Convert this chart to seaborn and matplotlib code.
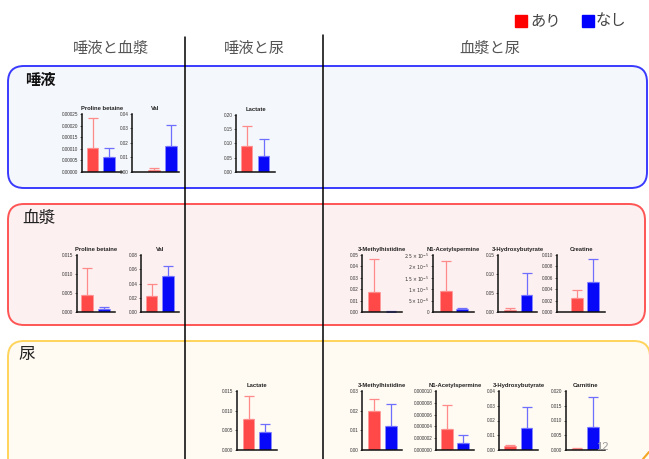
import numpy as np
import pandas as pd
import matplotlib
matplotlib.use("Agg")
import matplotlib.pyplot as plt
from matplotlib.patches import FancyBboxPatch, Rectangle
import seaborn as sns

# ---- data -------------------------------------------------------------
groups = ["あり", "なし"]

metabolites = [
    "Proline betaine", "Val", "Lactate",                       # 唾液
    "Proline betaine", "Val", "3-Methylhistidine",
    "N1-Acetylspermine", "3-Hydroxybutyrate", "Creatine",      # 血漿
    "Lactate", "3-Methylhistidine", "N1-Acetylspermine",
    "3-Hydroxybutyrate", "Carnitine",                          # 尿
]

mean_ari = [0.000103, 0.0016, 0.0895,
            0.0045, 0.0223, 0.0177, 9.2e-6, 0.0052, 0.00249,
            0.00784, 0.0199, 3.5e-6, 0.0025, 0.0003]
sd_ari = [0.000131, 0.0010, 0.0720,
          0.0071, 0.0172, 0.0285, 1.3e-5, 0.0053, 0.00144,
          0.0058, 0.0058, 4.2e-6, 0.0011, 0.0003]
mean_nashi = [0.0000625, 0.0179, 0.0558,
              0.0007, 0.0507, 0.0003, 1.2e-6, 0.0453, 0.0052,
              0.0046, 0.0123, 1.25e-6, 0.0146, 0.0077]
sd_nashi = [0.000042, 0.0144, 0.0605,
            0.0006, 0.0135, 0.0002, 0.5e-6, 0.0567, 0.00405,
            0.00205, 0.0109, 1.25e-6, 0.0143, 0.0102]

y_ticks = [
    [0, 0.00005, 0.0001, 0.00015, 0.0002, 0.00025],
    [0, 0.01, 0.02, 0.03, 0.04],
    [0, 0.05, 0.10, 0.15, 0.20],
    [0, 0.005, 0.010, 0.015],
    [0, 0.02, 0.04, 0.06, 0.08],
    [0, 0.01, 0.02, 0.03, 0.04, 0.05],
    [0, 5e-6, 1e-5, 1.5e-5, 2e-5, 2.5e-5],
    [0, 0.05, 0.10, 0.15],
    [0, 0.002, 0.004, 0.006, 0.008, 0.010],
    [0, 0.005, 0.010, 0.015],
    [0, 0.01, 0.02, 0.03],
    [0, 2e-6, 4e-6, 6e-6, 8e-6, 1e-5],
    [0, 0.01, 0.02, 0.03, 0.04],
    [0, 0.005, 0.010, 0.015, 0.020],
]
y_ticklabels = [
    ["0.00000", "0.00005", "0.00010", "0.00015", "0.00020", "0.00025"],
    ["0.00", "0.01", "0.02", "0.03", "0.04"],
    ["0.00", "0.05", "0.10", "0.15", "0.20"],
    ["0.000", "0.005", "0.010", "0.015"],
    ["0.00", "0.02", "0.04", "0.06", "0.08"],
    ["0.00", "0.01", "0.02", "0.03", "0.04", "0.05"],
    ["0", r"$5\times10^{-6}$", r"$1\times10^{-5}$", r"$1.5\times10^{-5}$",
     r"$2\times10^{-5}$", r"$2.5\times10^{-5}$"],
    ["0.00", "0.05", "0.10", "0.15"],
    ["0.000", "0.002", "0.004", "0.006", "0.008", "0.010"],
    ["0.000", "0.005", "0.010", "0.015"],
    ["0.00", "0.01", "0.02", "0.03"],
    ["0.000000", "0.000002", "0.000004", "0.000006", "0.000008", "0.000010"],
    ["0.00", "0.01", "0.02", "0.03", "0.04"],
    ["0.000", "0.005", "0.010", "0.015", "0.020"],
]

# ---- layout (pixels): left, right, top, bottom, centre of bar 1, centre of bar 2
panel_px = [
    (82, 122, 114, 172, 92.5, 109),
    (132, 179, 114, 172, 154, 171),
    (236, 275, 115, 172, 246.5, 263.5),
    (77, 115, 255, 312, 87, 104),
    (141, 179, 255, 312, 151.5, 168),
    (362, 402, 255, 312, 374, 391),
    (433, 474, 255, 312, 446, 462),
    (498, 537, 255, 312, 510, 526.5),
    (557, 605, 255, 312, 577, 593),
    (237, 277, 391, 450, 248.5, 265),
    (362, 402, 391, 450, 374, 391),
    (436, 474, 391, 450, 447, 463),
    (499, 538, 391, 450, 510, 526.5),
    (566, 605, 391, 450, 576.5, 593),
]

bar_colors = {"あり": "#ff4848", "なし": "#0808f8"}
edge_colors = ["#ff9a9a", "#8a8aff"]
err_colors = ["#ff8a8a", "#6e6eff"]

sns.set_style("white")
plt.rcParams["font.family"] = ["Liberation Sans", "Noto Sans CJK JP", "DejaVu Sans"]
JP = ["Noto Sans CJK JP", "DejaVu Sans"]

W, H = 649, 459
fig = plt.figure(figsize=(W / 100, H / 100), dpi=100)
fig.patch.set_facecolor("white")

# ---- slide background: section boxes, column dividers, headings ----------
bg = fig.add_axes([0, 0, 1, 1])
bg.set_xlim(0, W)
bg.set_ylim(H, 0)
bg.axis("off")

boxes = [
    (8, 66, 639, 122, "#3a3aff", "#f4f7fb"),
    (8, 204, 637, 121, "#ff5555", "#fdf0f0"),
    (8, 341, 642, 150, "#ffd45c", "#fffaf2"),
]
for x, y, w, h, ec, fc in boxes:
    bg.add_patch(FancyBboxPatch((x, y), w, h,
                                boxstyle="round,pad=0,rounding_size=16",
                                ec=ec, fc=fc, lw=1.4))

bg.plot([185, 185], [37, H], color="black", lw=1.1)
bg.plot([323, 323], [35, H], color="black", lw=1.1)

for xc, label in [(111, "唾液と血漿"), (254, "唾液と尿"), (490, "血漿と尿")]:
    bg.text(xc, 48, label, ha="center", va="center", fontsize=11,
            color="#555555", family=JP)

bg.text(25, 80, "唾液", ha="left", va="center", fontsize=11,
        fontweight="bold", color="#111111", family=JP)
bg.text(22, 219, "血漿", ha="left", va="center", fontsize=12,
        color="#222222", family=JP)
bg.text(18, 355, "尿", ha="left", va="center", fontsize=12,
        color="#222222", family=JP)

# legend
bg.add_patch(Rectangle((515, 15), 12, 12, color="#ff0000"))
bg.text(530, 21, "あり", ha="left", va="center", fontsize=11,
        color="#444444", family=JP)
bg.add_patch(Rectangle((582, 15), 12, 12, color="#0000ff"))
bg.text(596, 21, "なし", ha="left", va="center", fontsize=11,
        color="#444444", family=JP)

bg.plot([643, 649], [459, 452], color="#f5a623", lw=1.5)

# ---- bar charts ----------------------------------------------------------
for i, name in enumerate(metabolites):
    left, right, top, bottom, c1, c2 = panel_px[i]
    ax = fig.add_axes([left / W, 1 - bottom / H, (right - left) / W,
                       (bottom - top) / H])
    ax.patch.set_alpha(0)

    df = pd.DataFrame({"group": groups,
                       "value": [mean_ari[i], mean_nashi[i]]})
    sns.barplot(data=df, x="group", y="value", hue="group",
                palette=bar_colors, saturation=1, width=0.7,
                errorbar=None, legend=False, ax=ax)
    for patch, ec in zip(ax.patches, edge_colors):
        patch.set_edgecolor(ec)
        patch.set_linewidth(0.6)

    for j, (m, s) in enumerate([(mean_ari[i], sd_ari[i]),
                                (mean_nashi[i], sd_nashi[i])]):
        ax.errorbar(j, m, yerr=[[0], [s]], fmt="none", ecolor=err_colors[j],
                    elinewidth=0.9, capsize=3.6, capthick=0.9, zorder=1)

    d = c2 - c1
    ax.set_xlim(-(c1 - left) / d, (right - c1) / d)
    ax.set_ylim(0, y_ticks[i][-1])
    ax.set_yticks(y_ticks[i])
    ax.set_yticklabels(y_ticklabels[i], fontsize=3.3, color="#333333")
    ax.set_xticks([])
    ax.set_xlabel("")
    ax.set_ylabel("")
    ax.tick_params(axis="y", length=1.5, width=0.5, pad=1, left=True)
    sns.despine(ax=ax)
    for sp in ("left", "bottom"):
        ax.spines[sp].set_linewidth(1.1)
        ax.spines[sp].set_color("#111111")
    ax.set_title(name, fontsize=4.2, fontweight="bold", pad=3,
                 color="#222222")

fig.text(602 / W, 1 - 447 / H, "12", ha="center", va="center",
         fontsize=8, color="#9a9a9a", zorder=10)

fig.savefig("out.png", dpi=100)
